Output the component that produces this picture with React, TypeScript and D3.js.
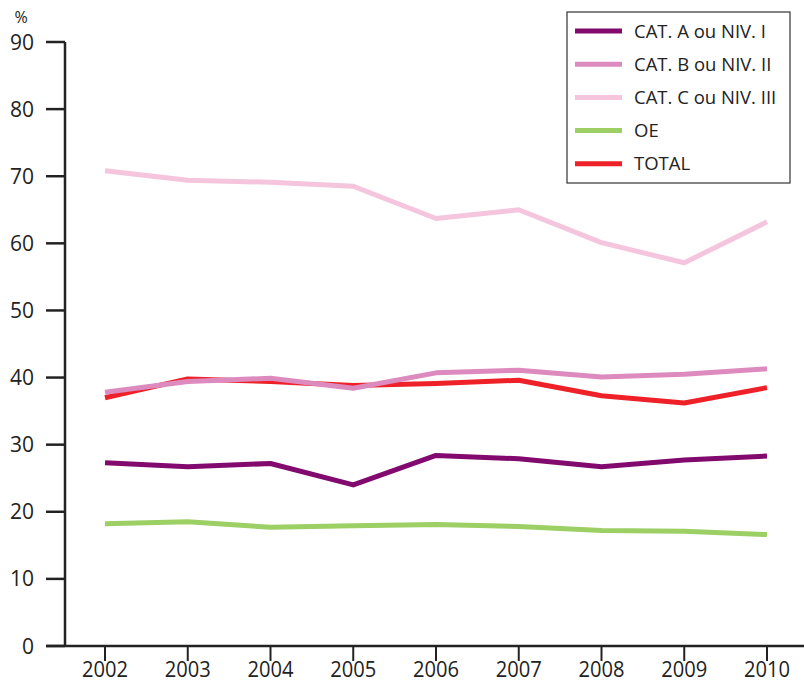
import { useEffect, useRef } from 'react';
import * as d3 from 'd3';

const YEARS = ['2002', '2003', '2004', '2005', '2006', '2007', '2008', '2009', '2010'];
const Y_TICKS = [0, 10, 20, 30, 40, 50, 60, 70, 80, 90];

const CAT_A = [27.3, 26.7, 27.2, 24.0, 28.4, 27.9, 26.7, 27.7, 28.3];
const CAT_B = [37.8, 39.4, 39.9, 38.4, 40.7, 41.1, 40.1, 40.5, 41.3];
const CAT_C = [70.8, 69.4, 69.1, 68.5, 63.7, 65.0, 60.1, 57.1, 63.2];
const OE    = [18.2, 18.5, 17.7, 17.9, 18.1, 17.8, 17.2, 17.1, 16.6];
const TOTAL = [37.0, 39.8, 39.4, 38.8, 39.1, 39.6, 37.3, 36.2, 38.5];

const SERIES = [
  { label: 'CAT. A ou NIV. I',   values: CAT_A, color: '#820a6e' },
  { label: 'CAT. B ou NIV. II',  values: CAT_B, color: '#dd8abe' },
  { label: 'CAT. C ou NIV. III', values: CAT_C, color: '#f4c5dc' },
  { label: 'OE',                 values: OE,    color: '#9ccf64' },
  { label: 'TOTAL',              values: TOTAL, color: '#ee2128' },
];
// draw order: TOTAL under CAT B where they overlap
const DRAW_ORDER = [2, 0, 3, 4, 1];

const FONT = '"Open Sans", "DejaVu Sans", sans-serif';

export default function App() {
  const svgRef = useRef<SVGSVGElement>(null);

  useEffect(() => {
    if (!svgRef.current) return;
    const W = 804;
    const svg = d3.select(svgRef.current);
    svg.selectAll('*').remove();

    const x = d3.scalePoint().domain(YEARS).range([105, 767]);
    const y = d3.scaleLinear().domain([0, 90]).range([646, 42]);

    // Y axis
    svg.append('line')
      .attr('x1', 65).attr('x2', 65).attr('y1', y(90)).attr('y2', y(0))
      .attr('stroke', '#222').attr('stroke-width', 2.5);
    Y_TICKS.forEach(t => {
      svg.append('line')
        .attr('x1', 46).attr('x2', 65).attr('y1', y(t)).attr('y2', y(t))
        .attr('stroke', '#222').attr('stroke-width', 2.5);
      svg.append('text')
        .attr('x', 34).attr('y', y(t) + 7.5)
        .attr('text-anchor', 'end').attr('font-size', 21).attr('font-family', FONT)
        .attr('fill', '#222').text(t);
    });
    svg.append('text')
      .attr('x', 21).attr('y', 23).attr('text-anchor', 'middle')
      .attr('font-size', 16).attr('font-family', FONT).attr('fill', '#222').text('%');

    // X axis
    svg.append('line')
      .attr('x1', 46).attr('x2', W).attr('y1', y(0)).attr('y2', y(0))
      .attr('stroke', '#222').attr('stroke-width', 2.5);
    YEARS.forEach(yr => {
      const px = x(yr) ?? 0;
      svg.append('line')
        .attr('x1', px).attr('x2', px).attr('y1', y(0)).attr('y2', y(0) + 15)
        .attr('stroke', '#222').attr('stroke-width', 2);
      svg.append('text')
        .attr('x', px).attr('y', 677).attr('text-anchor', 'middle')
        .attr('font-size', 21).attr('font-family', FONT).attr('fill', '#222')
        .attr('textLength', 46).attr('lengthAdjust', 'spacingAndGlyphs')
        .text(yr);
    });

    // Lines
    const line = d3.line<number>()
      .x((_, i) => x(YEARS[i]) ?? 0)
      .y(d => y(d));
    DRAW_ORDER.forEach(i => {
      const s = SERIES[i];
      svg.append('path')
        .attr('d', line(s.values) ?? '')
        .attr('fill', 'none').attr('stroke', s.color)
        .attr('stroke-width', 5).attr('stroke-linejoin', 'round');
    });

    // Legend
    const lg = svg.append('g');
    lg.append('rect')
      .attr('x', 567).attr('y', 12).attr('width', 223).attr('height', 171)
      .attr('fill', '#fff').attr('stroke', '#333').attr('stroke-width', 1.2);
    SERIES.forEach((s, i) => {
      const ry = 31 + i * 33.2;
      lg.append('line')
        .attr('x1', 575).attr('x2', 622).attr('y1', ry).attr('y2', ry)
        .attr('stroke', s.color).attr('stroke-width', 5);
      lg.append('text')
        .attr('x', 634).attr('y', ry + 6.5)
        .attr('font-size', 18.5).attr('font-family', FONT).attr('fill', '#222')
        .text(s.label);
    });
  }, []);

  return (
    <svg ref={svgRef} width={804} height={687}
      style={{ position: 'absolute', left: 0, top: 0, background: '#fff' }} />
  );
}
